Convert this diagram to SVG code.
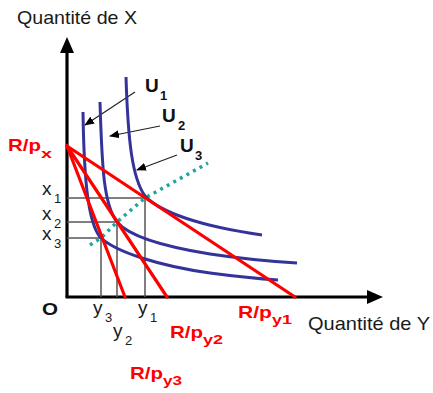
<svg xmlns="http://www.w3.org/2000/svg" width="433" height="393" viewBox="0 0 433 393">
<defs>
<style>
text{font-family:"Liberation Sans",Arial,sans-serif}
.ax{fill:#1a1a1a;font-size:18.5px}
.lab{fill:#1a1a1a;font-size:19px}
.sub{font-size:13px}
.red{fill:#ff0000;font-weight:bold;font-size:17px}
.rsub{font-size:13px;font-weight:bold}
.u{fill:#111;font-weight:bold;font-size:19px}
.usub{font-size:13px;font-weight:bold}
.curve{fill:none;stroke:#333399;stroke-width:3}
.bud{fill:none;stroke:#ff0000;stroke-width:3.2;stroke-linecap:round}
.grid{fill:none;stroke:#555;stroke-width:1.5}
.axis{fill:none;stroke:#000;stroke-width:3.2}
.ptr{fill:none;stroke:#222;stroke-width:1.2}
</style>
<marker id="ah" markerWidth="10" markerHeight="8" refX="9" refY="4" orient="auto" markerUnits="userSpaceOnUse">
<path d="M0,0 L10,4 L0,8 Z" fill="#000"/>
</marker>
</defs>
<rect width="433" height="393" fill="#fff"/>

<g id="axes">
<line class="axis" x1="67" y1="297" x2="67" y2="50"/>
<path d="M67,37 L60,53 L74,53 Z" fill="#000"/>
<line class="axis" x1="65.5" y1="297" x2="368" y2="297"/>
<path d="M383,297 L367,290 L367,304 Z" fill="#000"/>
<text class="ax" x="17" y="24" textLength="120" lengthAdjust="spacingAndGlyphs">Quantité de X</text>
<text class="ax" x="308" y="330" textLength="122" lengthAdjust="spacingAndGlyphs">Quantité de Y</text>
<text x="42" y="315" style="font-weight:bold;font-size:17px;fill:#111" textLength="16" lengthAdjust="spacingAndGlyphs">O</text>
</g>

<g id="connectors">
<polyline class="grid" points="67,198 145,198 145,297"/>
<polyline class="grid" points="67,222 117,222 117,297"/>
<polyline class="grid" points="67,238 101,238 101,297"/>
<polyline points="90,245 101,238 117,222 145,198 208,163" fill="none" stroke="#1ea49f" stroke-width="3.5" stroke-dasharray="3 4.5"/>
<line class="ptr" x1="135" y1="92" x2="85" y2="125" marker-end="url(#ah)"/>
<line class="ptr" x1="160" y1="126" x2="110" y2="136" marker-end="url(#ah)"/>
<line class="ptr" x1="177" y1="155" x2="137" y2="170" marker-end="url(#ah)"/>
</g>

<g id="U1">
<path class="curve" d="M83,112 C84,180 88,222 100,237 C115,252 160,266 210,273 C240,277 262,279 278,280"/>
<text class="u" x="145" y="92">U<tspan class="usub" x="160" y="100">1</tspan></text>
</g>
<g id="U2">
<path class="curve" d="M100,102 C102,170 104,205 117,222 C128,235 160,246 210,254 C250,260 280,262 297,263"/>
<text class="u" x="162" y="122">U<tspan class="usub" x="178" y="130">2</tspan></text>
</g>
<g id="U3">
<path class="curve" d="M126,77 C128,140 132,178 145,196 C160,212 200,226 262,235"/>
<text class="u" x="180" y="152">U<tspan class="usub" x="195" y="160">3</tspan></text>
</g>

<g id="budget1">
<line class="bud" x1="67" y1="146" x2="295" y2="297"/>
<text class="red" x="238" y="318" textLength="34" lengthAdjust="spacingAndGlyphs">R/p</text>
<text class="red rsub" x="272" y="324" textLength="20" lengthAdjust="spacingAndGlyphs">y1</text>
</g>
<g id="budget2">
<line class="bud" x1="67" y1="146" x2="167" y2="297"/>
<text class="red" x="170" y="338" textLength="33" lengthAdjust="spacingAndGlyphs">R/p</text>
<text class="red rsub" x="203" y="344" textLength="20" lengthAdjust="spacingAndGlyphs">y2</text>
</g>
<g id="budget3">
<line class="bud" x1="67" y1="146" x2="125" y2="297"/>
<text class="red" x="130" y="379" textLength="33" lengthAdjust="spacingAndGlyphs">R/p</text>
<text class="red rsub" x="163" y="385" textLength="19" lengthAdjust="spacingAndGlyphs">y3</text>
</g>
<g id="Rpx">
<text class="red" x="8" y="151" textLength="33" lengthAdjust="spacingAndGlyphs">R/p</text>
<text class="red rsub" x="41" y="158" textLength="11" lengthAdjust="spacingAndGlyphs">x</text>
</g>

<g id="xlabels">
<text class="lab" x="42" y="195">x<tspan class="sub" x="54" y="203">1</tspan></text>
<text class="lab" x="42" y="220">x<tspan class="sub" x="54" y="228">2</tspan></text>
<text class="lab" x="42" y="240">x<tspan class="sub" x="54" y="248">3</tspan></text>
</g>
<g id="ylabels">
<text class="lab" x="93" y="314">y<tspan class="sub" x="105" y="322">3</tspan></text>
<text class="lab" x="113" y="337">y<tspan class="sub" x="125" y="345">2</tspan></text>
<text class="lab" x="138" y="314">y<tspan class="sub" x="150" y="322">1</tspan></text>
</g>
</svg>
